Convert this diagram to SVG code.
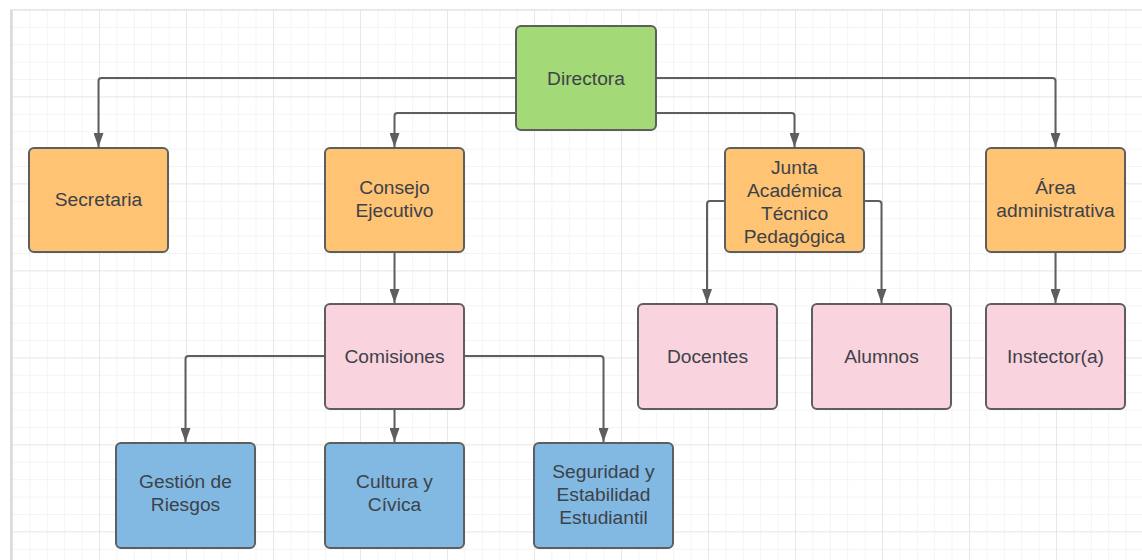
<svg xmlns="http://www.w3.org/2000/svg" width="1142" height="560" viewBox="0 0 1142 560">
  <defs>
    <pattern id="gridMinor" patternUnits="userSpaceOnUse" x="12" y="9.4" width="17.4" height="17.4">
      <path d="M0,0 H17.4 M0,0 V17.4" fill="none" stroke="#eaeaea" stroke-width="1"/>
    </pattern>
    <pattern id="gridMajor" patternUnits="userSpaceOnUse" x="12" y="9.4" width="87" height="87">
      <path d="M0,0 H87 M0,0 V87" fill="none" stroke="#dcdcdc" stroke-width="1"/>
    </pattern>
    <marker id="arrow" markerUnits="userSpaceOnUse" markerWidth="14" markerHeight="10" viewBox="0 0 14 10" refX="14" refY="5" orient="auto">
      <path d="M0,0 L14,5 L0,10 z" fill="#5e5e5e"/>
    </marker>
    <style>
      .box { stroke: #5e5e5e; stroke-width: 2; }
      .green { fill: #a3d977; }
      .orange { fill: #ffc374; }
      .pink { fill: #f9d3de; }
      .blue { fill: #82b9e3; }
      .lbl { font-family: "Liberation Sans", Arial, sans-serif; font-size: 19.2px; fill: #3d4248; text-anchor: middle; }
      .edge { fill: none; stroke: #5e5e5e; stroke-width: 2; marker-end: url(#arrow); }
    </style>
  </defs>

  <!-- canvas with grid -->
  <rect x="0" y="0" width="1142" height="560" fill="#ffffff"/>
  <rect x="10" y="10" width="1132" height="550" fill="url(#gridMinor)"/>
  <rect x="10" y="10" width="1132" height="550" fill="url(#gridMajor)"/>
  <rect x="10" y="9" width="1132" height="1.5" fill="#e6e6ea"/>
  <rect x="10" y="10" width="2.5" height="550" fill="#dcdcdc"/>

  <!-- connectors -->
  <g id="connectors">
    <path class="edge" d="M516,78 H101.5 Q98.5,78 98.5,81 V147"/>
    <path class="edge" d="M516,113 H397.5 Q394.5,113 394.5,116 V147"/>
    <path class="edge" d="M656,113 H791.5 Q794.5,113 794.5,116 V147"/>
    <path class="edge" d="M656,78 H1052.5 Q1055.5,78 1055.5,81 V147"/>
    <path class="edge" d="M394.5,252 V303"/>
    <path class="edge" d="M325,356 H188.5 Q185.5,356 185.5,359 V442"/>
    <path class="edge" d="M394.5,409 V442"/>
    <path class="edge" d="M464,356 H600.5 Q603.5,356 603.5,359 V442"/>
    <path class="edge" d="M725,201 H710 Q707,201 707,204 V303"/>
    <path class="edge" d="M864,201 H878.5 Q881.5,201 881.5,204 V303"/>
    <path class="edge" d="M1055.5,252 V303"/>
  </g>

  <!-- nodes -->
  <g id="directora">
    <rect class="box green" x="516" y="26" width="140" height="104" rx="5"/>
    <text class="lbl" x="586" y="84.5">Directora</text>
  </g>
  <g id="secretaria">
    <rect class="box orange" x="29" y="148" width="139" height="104" rx="5"/>
    <text class="lbl" x="98.5" y="206">Secretaria</text>
  </g>
  <g id="consejo-ejecutivo">
    <rect class="box orange" x="325" y="148" width="139" height="104" rx="5"/>
    <text class="lbl" x="394.5" y="193.5">Consejo</text>
    <text class="lbl" x="394.5" y="216.5">Ejecutivo</text>
  </g>
  <g id="junta-academica">
    <rect class="box orange" x="725" y="148" width="139" height="104" rx="5"/>
    <text class="lbl" x="794.5" y="174">Junta</text>
    <text class="lbl" x="794.5" y="197">Académica</text>
    <text class="lbl" x="794.5" y="220">Técnico</text>
    <text class="lbl" x="794.5" y="243">Pedagógica</text>
  </g>
  <g id="area-administrativa">
    <rect class="box orange" x="986" y="148" width="139" height="104" rx="5"/>
    <text class="lbl" x="1055.5" y="193.5">Área</text>
    <text class="lbl" x="1055.5" y="216.5">administrativa</text>
  </g>
  <g id="comisiones">
    <rect class="box pink" x="325" y="304" width="139" height="105" rx="5"/>
    <text class="lbl" x="394.5" y="362.5">Comisiones</text>
  </g>
  <g id="docentes">
    <rect class="box pink" x="638" y="304" width="139" height="105" rx="5"/>
    <text class="lbl" x="707.5" y="362.5">Docentes</text>
  </g>
  <g id="alumnos">
    <rect class="box pink" x="812" y="304" width="139" height="105" rx="5"/>
    <text class="lbl" x="881.5" y="362.5">Alumnos</text>
  </g>
  <g id="instector">
    <rect class="box pink" x="986" y="304" width="139" height="105" rx="5"/>
    <text class="lbl" x="1055.5" y="362.5">Instector(a)</text>
  </g>
  <g id="gestion-riesgos">
    <rect class="box blue" x="116" y="443" width="139" height="105" rx="5"/>
    <text class="lbl" x="185.5" y="488">Gestión de</text>
    <text class="lbl" x="185.5" y="511">Riesgos</text>
  </g>
  <g id="cultura-civica">
    <rect class="box blue" x="325" y="443" width="139" height="105" rx="5"/>
    <text class="lbl" x="394.5" y="488">Cultura y</text>
    <text class="lbl" x="394.5" y="511">Cívica</text>
  </g>
  <g id="seguridad">
    <rect class="box blue" x="534" y="443" width="139" height="105" rx="5"/>
    <text class="lbl" x="603.5" y="477.5">Seguridad y</text>
    <text class="lbl" x="603.5" y="500.5">Estabilidad</text>
    <text class="lbl" x="603.5" y="523.5">Estudiantil</text>
  </g>
</svg>
